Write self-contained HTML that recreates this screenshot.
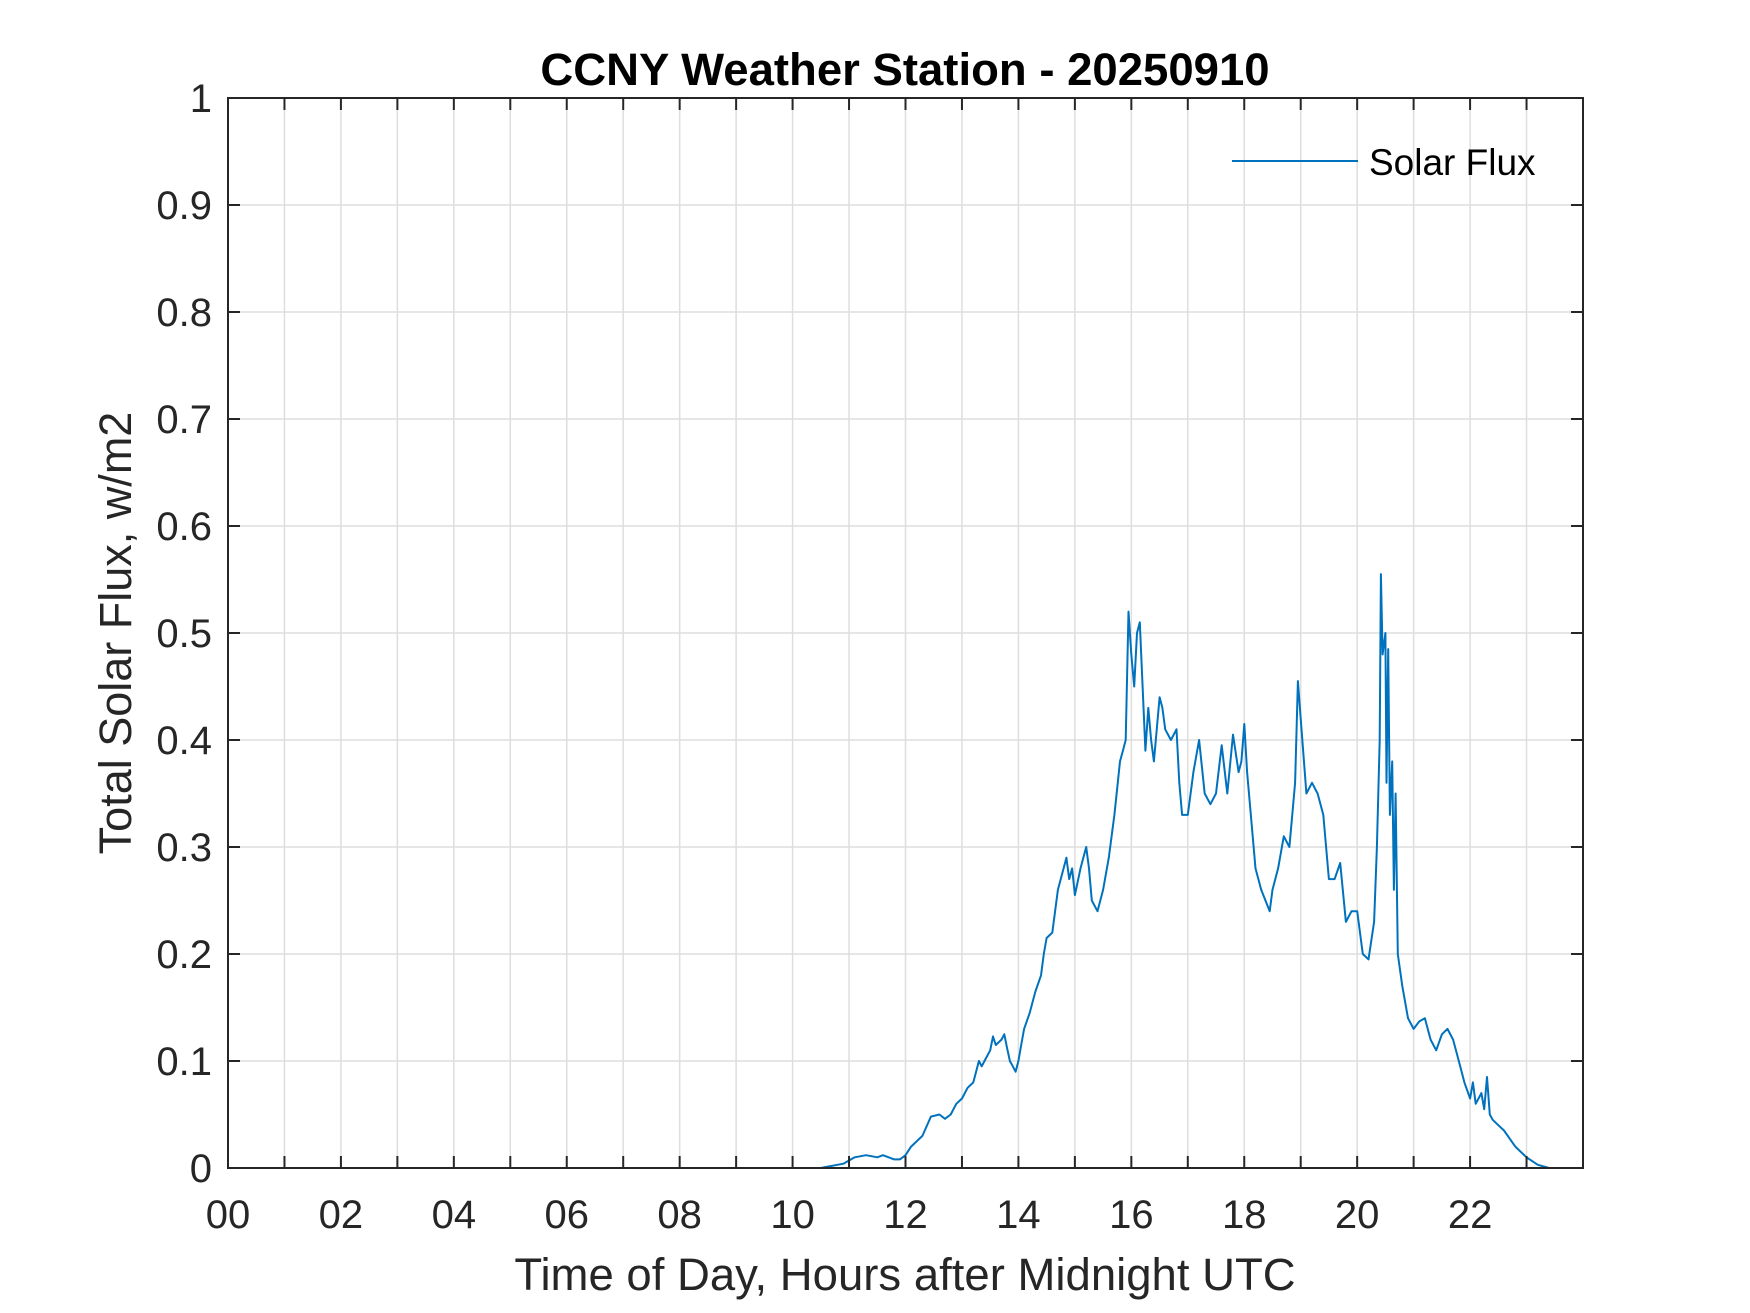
<!DOCTYPE html>
<html><head><meta charset="utf-8"><style>
html,body{margin:0;padding:0;background:#fff}
svg{display:block}
text{font-family:"Liberation Sans",Arial,sans-serif;fill:#262626}
</style></head><body>
<svg id="chart" width="1750" height="1313" viewBox="0 0 1750 1313" xmlns="http://www.w3.org/2000/svg">
<rect x="0" y="0" width="1750" height="1313" fill="#fff"/>
<rect x="228" y="98" width="1355" height="1070" fill="#fff"/>
<g id="grid"></g>
<g id="series"></g>
<g id="axes"></g>
<text x="905" y="85" text-anchor="middle" font-size="45.5" font-weight="bold" style="fill:#000">CCNY Weather Station - 20250910</text>
<text x="905" y="1290" text-anchor="middle" font-size="45.5">Time of Day, Hours after Midnight UTC</text>
<text transform="translate(131,633) rotate(-90)" text-anchor="middle" font-size="45">Total Solar Flux, w/m2</text>
<g>
<line x1="1232" y1="161" x2="1358" y2="161" stroke="#0072BD" stroke-width="2"/>
<text x="1369" y="175" font-size="37" style="fill:#000">Solar Flux</text>
</g>
</svg>
<script>
const xTicks = [0,1,2,3,4,5,6,7,8,9,10,11,12,13,14,15,16,17,18,19,20,21,22,23];
const xTickLabels = ["00","02","04","06","08","10","12","14","16","18","20","22"];
const yTicks = [0,0.1,0.2,0.3,0.4,0.5,0.6,0.7,0.8,0.9,1];
const yTickLabels = ["0","0.1","0.2","0.3","0.4","0.5","0.6","0.7","0.8","0.9","1"];
const hours = [0,10.5,10.6,10.9,11.1,11.3,11.5,11.6,11.8,11.9,12.0,12.1,12.3,12.45,12.6,12.7,12.8,12.9,13.0,13.1,13.2,13.25,13.3,13.35,13.4,13.5,13.55,13.6,13.7,13.75,13.8,13.85,13.9,13.95,14.0,14.05,14.1,14.2,14.3,14.4,14.45,14.5,14.6,14.65,14.7,14.8,14.85,14.9,14.95,15.0,15.1,15.2,15.25,15.3,15.4,15.5,15.6,15.7,15.8,15.85,15.9,15.95,16.0,16.05,16.1,16.15,16.2,16.25,16.3,16.35,16.4,16.5,16.55,16.6,16.7,16.8,16.85,16.9,17.0,17.1,17.2,17.3,17.4,17.5,17.6,17.7,17.8,17.9,17.95,18.0,18.05,18.1,18.2,18.3,18.45,18.5,18.6,18.7,18.8,18.9,18.95,19.0,19.1,19.2,19.3,19.4,19.5,19.6,19.7,19.8,19.9,20.0,20.1,20.2,20.3,20.35,20.4,20.42,20.45,20.5,20.52,20.55,20.58,20.62,20.65,20.68,20.72,20.8,20.9,21.0,21.1,21.2,21.3,21.4,21.5,21.6,21.7,21.8,21.9,22.0,22.05,22.1,22.2,22.25,22.3,22.35,22.4,22.5,22.6,22.8,23.0,23.2,23.4,24];
const flux = [0,0,0.001,0.004,0.01,0.012,0.01,0.012,0.008,0.008,0.012,0.02,0.03,0.048,0.05,0.046,0.05,0.06,0.065,0.075,0.08,0.09,0.1,0.095,0.1,0.11,0.123,0.115,0.12,0.125,0.112,0.1,0.095,0.09,0.1,0.115,0.13,0.145,0.165,0.18,0.2,0.215,0.22,0.24,0.26,0.28,0.29,0.27,0.28,0.255,0.28,0.3,0.28,0.25,0.24,0.26,0.29,0.33,0.38,0.39,0.4,0.52,0.48,0.45,0.5,0.51,0.45,0.39,0.43,0.4,0.38,0.44,0.43,0.41,0.4,0.41,0.36,0.33,0.33,0.37,0.4,0.35,0.34,0.35,0.395,0.35,0.405,0.37,0.38,0.415,0.37,0.34,0.28,0.26,0.24,0.26,0.28,0.31,0.3,0.36,0.455,0.42,0.35,0.36,0.35,0.33,0.27,0.27,0.285,0.23,0.24,0.24,0.2,0.195,0.23,0.3,0.4,0.555,0.48,0.5,0.36,0.485,0.33,0.38,0.26,0.35,0.2,0.17,0.14,0.13,0.137,0.14,0.12,0.11,0.125,0.13,0.12,0.1,0.08,0.065,0.08,0.06,0.07,0.055,0.085,0.05,0.045,0.04,0.035,0.02,0.01,0.003,0,0];

const L=228,R=1583,T=98,B=1168;
function xs(h){return L+(R-L)*h/24;}
function ys(v){return B-(B-T)*v;}
const NS="http://www.w3.org/2000/svg";
function mk(tag,parent){const e=document.createElementNS(NS,tag);parent.appendChild(e);return e;}
const grid=document.getElementById('grid'),axes=document.getElementById('axes'),series=document.getElementById('series');
xTicks.forEach(h=>{
  const g=mk('line',grid);
  
  
  g.setAttribute('x1',xs(h));g.setAttribute('x2',xs(h));g.setAttribute('y1',T);g.setAttribute('y2',B);
  g.setAttribute('stroke','#dedede');g.setAttribute('stroke-width','1.5');
  [[B,B-12],[T,T+12]].forEach(p=>{
    const t=mk('line',axes);
    
    
    t.setAttribute('x1',xs(h));t.setAttribute('x2',xs(h));t.setAttribute('y1',p[0]);t.setAttribute('y2',p[1]);
    t.setAttribute('stroke','#262626');t.setAttribute('stroke-width','2');
  });
});
xTickLabels.forEach((lab,i)=>{
  const t=mk('text',axes);
  
  
  t.setAttribute('x',xs(i*2));t.setAttribute('y',1228);t.setAttribute('text-anchor','middle');t.setAttribute('font-size','40');
  t.textContent=lab;
});
yTicks.forEach((v,i)=>{
  const g=mk('line',grid);
  
  
  g.setAttribute('x1',L);g.setAttribute('x2',R);g.setAttribute('y1',ys(v));g.setAttribute('y2',ys(v));
  g.setAttribute('stroke','#dedede');g.setAttribute('stroke-width','1.5');
  [[L,L+12],[R,R-12]].forEach(p=>{
    const t=mk('line',axes);
    
    
    t.setAttribute('x1',p[0]);t.setAttribute('x2',p[1]);t.setAttribute('y1',ys(v));t.setAttribute('y2',ys(v));
    t.setAttribute('stroke','#262626');t.setAttribute('stroke-width','2');
  });
  const lb=mk('text',axes);
  
  
  lb.setAttribute('x',212);lb.setAttribute('y',ys(v)+14);lb.setAttribute('text-anchor','end');lb.setAttribute('font-size','40');
  lb.textContent=yTickLabels[i];
});
const box=mk('rect',axes);


box.setAttribute('x',L);box.setAttribute('y',T);box.setAttribute('width',R-L);box.setAttribute('height',B-T);
box.setAttribute('fill','none');box.setAttribute('stroke','#262626');box.setAttribute('stroke-width','2');
const line=mk('polyline',series);


line.setAttribute('points',hours.map((h,i)=>xs(h).toFixed(1)+','+ys(flux[i]).toFixed(1)).join(' '));
line.setAttribute('fill','none');line.setAttribute('stroke','#0072BD');line.setAttribute('stroke-width','2');line.setAttribute('stroke-linejoin','round');
</script>
</body></html>
